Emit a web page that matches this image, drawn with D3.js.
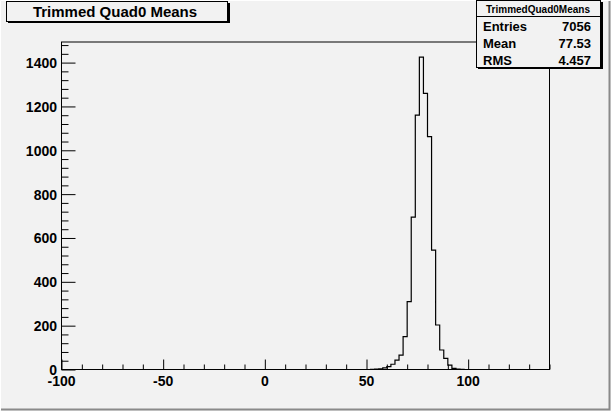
<!DOCTYPE html>
<html><head><meta charset="utf-8">
<script src="https://cdn.jsdelivr.net/npm/d3@7"></script>
<style>body{margin:0;background:#f2f2f2}svg{display:block}text{font-family:"Liberation Sans",Arial,sans-serif;font-weight:bold;fill:#000}</style>
</head><body>
<script>
const binLowEdges = [52,54,56,58,60,62,64,66,68,70,72,74,76,78,80,82,84,86,88,90,92,94,96];
const binCounts   = [1,2,3,7,13,24,43,66,150,310,695,1160,1425,1260,1062,545,203,89,51,20,5,2,1];
const binWidth = 2;
const xDomain = [-100, 140];
const yDomain = [0, 1494];
const xTickValues = [-100,-50,0,50,100];
const yTickValues = [0,200,400,600,800,1000,1200,1400];
const titleText = "Trimmed Quad0 Means";
const statsName = "TrimmedQuad0Means";
const statsLabels = ["Entries","Mean","RMS"];
const statsValues = ["7056","77.53","4.457"];

const W = 611, H = 411;
const svg = d3.select("body").append("svg").attr("width", W).attr("height", H);
svg.append("rect").attr("width", W).attr("height", H).attr("fill", "#f2f2f2");
// canvas border
svg.append("path").attr("d", `M0.5,${H-0.5}V0.5H${W-0.5}`).attr("stroke","#fff").attr("fill","none");
svg.append("path").attr("d", `M1,${H-1.5}H${W-1.5}V1`).attr("stroke","#8a8a8a").attr("stroke-width",2).attr("fill","none");

const L = 61.5, R = 549.5, T = 42, B = 369.5;
const x = d3.scaleLinear().domain(xDomain).range([L, R]);
const y = d3.scaleLinear().domain(yDomain).range([B, T]);

// histogram outline (step, no inner lines)
const pts = [[xDomain[0], 0], [binLowEdges[0], 0]];
binLowEdges.forEach((lo, i) => {
  pts.push([lo, binCounts[i]]); pts.push([lo + binWidth, binCounts[i]]);
});
pts.push([binLowEdges[binLowEdges.length-1] + binWidth, 0]);
pts.push([xDomain[1], 0]);
const line = d3.line().x(d => x(d[0])).y(d => y(d[1]));
svg.append("path").attr("d", line(pts)).attr("fill","none").attr("stroke","#000").attr("stroke-width",1.2);

// frame
svg.append("rect").attr("x", L).attr("y", T).attr("width", R-L).attr("height", B-T)
  .attr("fill","none").attr("stroke","#000").attr("stroke-width",1);

// x axis ticks (inward)
const xAxis = d3.axisTop(x).tickValues(xTickValues).tickSize(10).tickFormat("");
svg.append("g").attr("transform", `translate(0,${B})`).call(xAxis).call(g => g.select(".domain").remove());
const xMinor = d3.axisTop(x).tickValues(d3.range(xDomain[0], xDomain[1]+1, 10).filter(v => v % 50 !== 0)).tickSize(5).tickFormat("");
svg.append("g").attr("transform", `translate(0,${B})`).call(xMinor).call(g => g.select(".domain").remove());
svg.append("g").selectAll("text").data(xTickValues).join("text")
  .attr("x", d => x(d)).attr("y", 386).attr("text-anchor","middle").attr("font-size", 14).text(d => d);

// y axis ticks (inward)
const yAxis = d3.axisRight(y).tickValues(yTickValues).tickSize(14).tickFormat("");
svg.append("g").attr("transform", `translate(${L},0)`).call(yAxis).call(g => g.select(".domain").remove());
const yMinor = d3.axisRight(y).tickValues(d3.range(0, yDomain[1], 40).filter(v => v % 200 !== 0)).tickSize(7).tickFormat("");
svg.append("g").attr("transform", `translate(${L},0)`).call(yMinor).call(g => g.select(".domain").remove());
svg.append("g").selectAll("text").data(yTickValues).join("text")
  .attr("x", 57).attr("y", d => y(d) + 5.5).attr("text-anchor","end").attr("font-size", 14).text(d => d);

svg.selectAll(".tick line").attr("stroke","#000");

// title box
svg.append("rect").attr("x", 8).attr("y", 3).attr("width", 222).attr("height", 20).attr("fill","#000");
svg.append("rect").attr("x", 6.5).attr("y", 1.5).attr("width", 221).attr("height", 20).attr("fill","#f2f2f2").attr("stroke","#000");
svg.append("text").attr("x", 115).attr("y", 17).attr("text-anchor","middle").attr("font-size", 15).text(titleText);

// stats box
svg.append("rect").attr("x", 478).attr("y", 2).attr("width", 125).attr("height", 67).attr("fill","#000");
svg.append("rect").attr("x", 476.5).attr("y", 0.5).attr("width", 124).attr("height", 67).attr("fill","#f2f2f2").attr("stroke","#000");
svg.append("line").attr("x1", 476.5).attr("x2", 600.5).attr("y1", 16.5).attr("y2", 16.5).attr("stroke","#000");
svg.append("text").attr("x", 538).attr("y", 13).attr("text-anchor","middle").attr("font-size", 10).text(statsName);
statsLabels.forEach((lab, i) => {
  svg.append("text").attr("x", 483).attr("y", 31 + i*16.8).attr("font-size", 13).text(lab);
  svg.append("text").attr("x", 591).attr("y", 31 + i*16.8).attr("text-anchor","end").attr("font-size", 13).text(statsValues[i]);
});
</script>
</body></html>
